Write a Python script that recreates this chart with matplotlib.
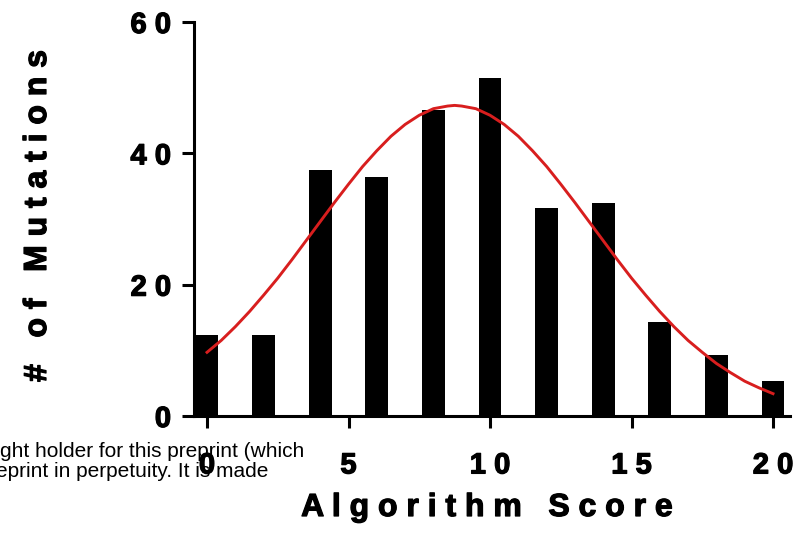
import matplotlib
matplotlib.use("Agg")
import matplotlib.pyplot as plt
import matplotlib.patheffects as pe

# Histogram of algorithm scores
scores = [0, 2, 4, 6, 8, 10, 12, 14, 16, 18, 20]
mutation_counts = [12.3, 12.3, 37.4, 36.4, 46.6, 51.5, 31.7, 32.4, 14.3, 9.3, 5.3]

# Gaussian fit curve, every half score
fit_x = [0, 0.5, 1, 1.5, 2, 2.5, 3, 3.5, 4, 4.5, 5, 5.5, 6, 6.5, 7, 7.5, 8, 8.5,
         8.75, 9, 9.5, 10, 10.5, 11, 11.5, 12, 12.5, 13, 13.5, 14, 14.5, 15, 15.5,
         16, 16.5, 17, 17.5, 18, 18.5, 19, 19.5, 20]
fit_y = [9.7, 11.5, 13.6, 15.9, 18.4, 21.0, 23.8, 26.7, 29.6, 32.5, 35.3, 38.0,
         40.4, 42.6, 44.4, 45.8, 46.8, 47.2, 47.3, 47.2, 46.8, 45.8, 44.4, 42.6,
         40.4, 38.0, 35.3, 32.5, 29.6, 26.7, 23.8, 21.0, 18.4, 15.9, 13.6, 11.5,
         9.7, 8.0, 6.6, 5.3, 4.3, 3.4]

x_ticks = [0, 5, 10, 15, 20]
y_ticks = [0, 20, 40, 60]

# bits of page text that show through at the bottom left
page_lines = ["ght holder for this preprint (which",
              "eprint in perpetuity. It is made"]


def spaced(s, gap=" "):
    # fake letter spacing, the original uses wide tracking
    return gap.join(list(s))


plt.rcParams['font.family'] = ['Liberation Sans', 'DejaVu Sans']
heavy = [pe.withStroke(linewidth=0.9, foreground='black')]

fig = plt.figure(figsize=(7.98, 5.33), dpi=100)
ax = fig.add_axes([194 / 798, 1 - 416 / 533, (790 - 194) / 798, (416 - 22) / 533])

ax.bar(scores, mutation_counts, width=0.8, color='black', zorder=2)
ax.plot(fit_x, fit_y, color='#d81e1e', linewidth=2.1, zorder=3)

ax.set_xlim(-0.46, 20.6)
ax.set_ylim(0, 60)

for side in ['top', 'right']:
    ax.spines[side].set_visible(False)
for side in ['left', 'bottom']:
    ax.spines[side].set_linewidth(2.2)

ax.set_xticks(x_ticks)
ax.set_xticklabels([spaced(str(t)) for t in x_ticks], fontsize=21, fontweight='bold')
ax.set_yticks(y_ticks)
ax.set_yticklabels([spaced(str(t)) for t in y_ticks], fontsize=21, fontweight='bold')
ax.tick_params(axis='x', length=8.5, width=2.2, pad=17)
ax.tick_params(axis='y', length=8.5, width=2.2, pad=8)
for lbl in ax.get_xticklabels() + ax.get_yticklabels():
    lbl.set_path_effects(heavy)

fig.text(487 / 798, 1 - 516 / 533, spaced("Algorithm Score"), fontsize=23,
         fontweight='bold', ha='center', va='baseline', path_effects=heavy)
fig.text(38 / 798, 1 - 216 / 533, spaced("# of Mutations"), fontsize=23,
         fontweight='bold', ha='center', va='center', rotation=90, path_effects=heavy)

fig.text(0.0, 1 - 457 / 533, page_lines[0], fontsize=15, ha='left', va='baseline')
fig.text(-4 / 798, 1 - 477 / 533, page_lines[1], fontsize=15, ha='left', va='baseline')

fig.savefig("out.png", dpi=100)
